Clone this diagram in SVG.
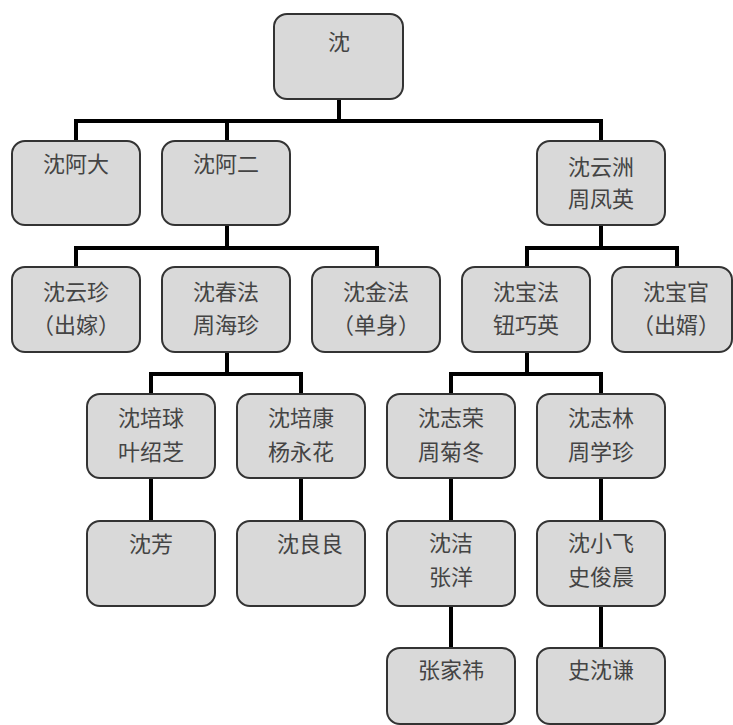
<svg xmlns="http://www.w3.org/2000/svg" width="733" height="725" viewBox="0 0 733 725">
<style>
.box{fill:#d9d9d9;stroke:#333;stroke-width:2}
.t{font-family:"Noto Sans CJK SC","Noto Sans CJK TC",sans-serif;font-size:22px;fill:#444;text-anchor:middle}
.c{fill:none;stroke:#000;stroke-width:4}
</style>
<rect width="733" height="725" fill="#fff"/>
<g id="connectors" class="c">
<path d="M339,99 V121 M76,141 V121 H601 V141 M227,121 V141"/>
<path d="M227,225 V248 M76,267 V248 H377 V267 M601,225 V248 M527,267 V248 H677 V267"/>
<path d="M227,352 V374 M151,394 V374 H301 V394 M527,352 V374 M451,394 V374 H601 V394"/>
<path d="M151,478 V521 M301,478 V521 M451,478 V521 M601,478 V521"/>
<path d="M451,606 V648 M601,606 V648"/>
</g>
<g id="n-root"><rect class="box" x="274" y="14" width="129" height="85" rx="13"/><text class="t" x="339" y="50">沈</text></g>
<g id="n-ada"><rect class="box" x="12" y="141" width="128" height="84" rx="13"/><text class="t" x="76" y="172">沈阿大</text></g>
<g id="n-aer"><rect class="box" x="162" y="141" width="128" height="84" rx="13"/><text class="t" x="226" y="172">沈阿二</text></g>
<g id="n-yunzhou"><rect class="box" x="537" y="141" width="128" height="84" rx="13"/><text class="t" x="601" y="175">沈云洲</text><text class="t" x="601" y="207">周凤英</text></g>
<g id="n-yunzhen"><rect class="box" x="12" y="267" width="128" height="85" rx="13"/><text class="t" x="76" y="300">沈云珍</text><text class="t" x="76" y="333">（出嫁）</text></g>
<g id="n-chunfa"><rect class="box" x="162" y="267" width="128" height="85" rx="13"/><text class="t" x="226" y="300">沈春法</text><text class="t" x="226" y="333">周海珍</text></g>
<g id="n-jinfa"><rect class="box" x="312" y="267" width="128" height="85" rx="13"/><text class="t" x="376" y="300">沈金法</text><text class="t" x="376" y="333">（单身）</text></g>
<g id="n-baofa"><rect class="box" x="462" y="267" width="128" height="85" rx="13"/><text class="t" x="526" y="300">沈宝法</text><text class="t" x="526" y="333">钮巧英</text></g>
<g id="n-baoguan"><rect class="box" x="612" y="267" width="120" height="85" rx="13"/><text class="t" x="676" y="300">沈宝官</text><text class="t" x="676" y="333">（出婿）</text></g>
<g id="n-peiqiu"><rect class="box" x="87" y="394" width="128" height="84" rx="13"/><text class="t" x="151" y="426">沈培球</text><text class="t" x="151" y="460">叶绍芝</text></g>
<g id="n-peikang"><rect class="box" x="237" y="394" width="128" height="84" rx="13"/><text class="t" x="301" y="426">沈培康</text><text class="t" x="301" y="460">杨永花</text></g>
<g id="n-zhirong"><rect class="box" x="387" y="394" width="128" height="84" rx="13"/><text class="t" x="451" y="426">沈志荣</text><text class="t" x="451" y="460">周菊冬</text></g>
<g id="n-zhilin"><rect class="box" x="537" y="394" width="128" height="84" rx="13"/><text class="t" x="601" y="426">沈志林</text><text class="t" x="601" y="460">周学珍</text></g>
<g id="n-fang"><rect class="box" x="87" y="521" width="128" height="85" rx="13"/><text class="t" x="151" y="552">沈芳</text></g>
<g id="n-liangliang"><rect class="box" x="237" y="521" width="128" height="85" rx="13"/><text class="t" x="310" y="552">沈良良</text></g>
<g id="n-jie"><rect class="box" x="387" y="521" width="128" height="85" rx="13"/><text class="t" x="451" y="551">沈洁</text><text class="t" x="451" y="585">张洋</text></g>
<g id="n-xiaofei"><rect class="box" x="537" y="521" width="128" height="85" rx="13"/><text class="t" x="601" y="551">沈小飞</text><text class="t" x="601" y="585">史俊晨</text></g>
<g id="n-jiayi"><rect class="box" x="387" y="648" width="128" height="76" rx="13"/><text class="t" x="451" y="678">张家祎</text></g>
<g id="n-shenqian"><rect class="box" x="537" y="648" width="128" height="76" rx="13"/><text class="t" x="601" y="678">史沈谦</text></g>
</svg>
